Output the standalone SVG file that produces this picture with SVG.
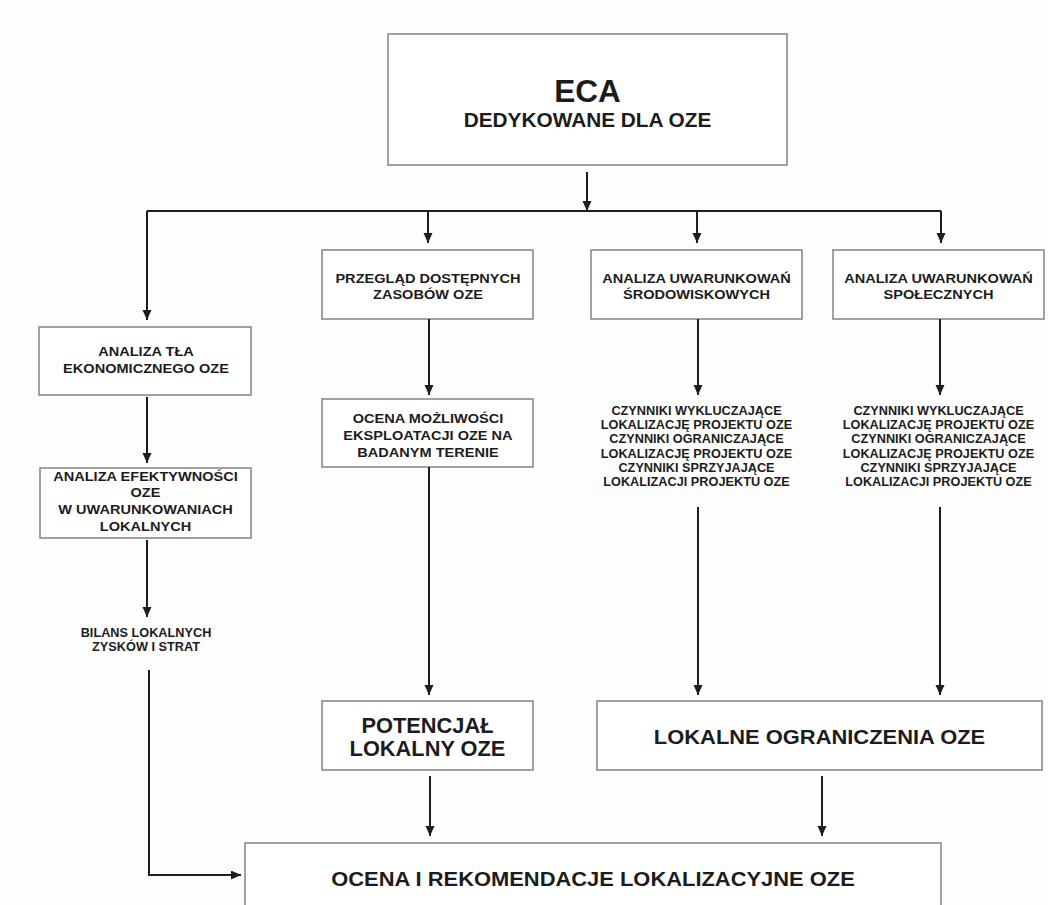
<svg xmlns="http://www.w3.org/2000/svg" width="1048" height="905" viewBox="0 0 1048 905">
<defs>
<marker id="arr" markerUnits="userSpaceOnUse" markerWidth="10" markerHeight="10" refX="10" refY="4.5" orient="auto">
<path d="M0,0 L10,4.5 L0,9 z" fill="#1e1e1e"/>
</marker>
<style>
.box{fill:#fff;stroke:#8a8a8a;stroke-width:1.6}
.t{font-family:"Liberation Sans",Arial,Helvetica,sans-serif;font-weight:bold;fill:#1c1c1c;text-anchor:middle}
.s13{font-size:13px}
.s12{font-size:12px}
.big{font-size:20px}
.con path{fill:none;stroke:#1e1e1e;stroke-width:2;marker-end:url(#arr)}
.con .plain{marker-end:none}
</style>
</defs>
<rect width="1048" height="905" fill="#fdfdfd"/>

<g id="n-eca">
<rect class="box" x="388" y="34" width="399" height="131"/>
<text class="t" x="587.5" y="102" style="font-size:31.5px">ECA</text>
<g transform="translate(587.5 0) scale(1.04 1)"><text class="t" x="0" y="127" style="font-size:20px">DEDYKOWANE DLA OZE</text></g>
</g>

<g id="n-tlo">
<rect class="box" x="39" y="327" width="212" height="68"/>
<g transform="translate(146 0) scale(1.12 1)"><text class="t s13" x="0" y="356">ANALIZA TŁA</text><text class="t s13" x="0" y="373">EKONOMICZNEGO OZE</text></g>
</g>

<g id="n-przeglad">
<rect class="box" x="322" y="250" width="211" height="69"/>
<g transform="translate(428 0) scale(1.12 1)"><text class="t s13" x="0" y="283">PRZEGLĄD DOSTĘPNYCH</text><text class="t s13" x="0" y="299">ZASOBÓW OZE</text></g>
</g>

<g id="n-srod">
<rect class="box" x="591" y="250" width="211" height="69"/>
<g transform="translate(696.5 0) scale(1.12 1)"><text class="t s13" x="0" y="283">ANALIZA UWARUNKOWAŃ</text><text class="t s13" x="0" y="299">ŚRODOWISKOWYCH</text></g>
</g>

<g id="n-spol">
<rect class="box" x="833" y="250" width="211" height="69"/>
<g transform="translate(938.5 0) scale(1.12 1)"><text class="t s13" x="0" y="283">ANALIZA UWARUNKOWAŃ</text><text class="t s13" x="0" y="299">SPOŁECZNYCH</text></g>
</g>

<g id="n-ocena-mozl">
<rect class="box" x="322" y="399" width="211" height="68"/>
<g transform="translate(428 0) scale(1.12 1)"><text class="t s13" x="0" y="423">OCENA MOŻLIWOŚCI</text><text class="t s13" x="0" y="440">EKSPLOATACJI OZE NA</text><text class="t s13" x="0" y="457">BADANYM TERENIE</text></g>
</g>

<g id="n-efekt">
<rect class="box" x="40" y="468" width="211" height="70"/>
<g transform="translate(145.5 0) scale(1.12 1)"><text class="t s13" x="0" y="481">ANALIZA EFEKTYWNOŚCI</text><text class="t s13" x="0" y="497">OZE</text><text class="t s13" x="0" y="514">W UWARUNKOWANIACH</text><text class="t s13" x="0" y="531">LOKALNYCH</text></g>
</g>

<g id="n-bilans">
<g transform="translate(146 0) scale(1.06 1)"><text class="t s12" x="0" y="637">BILANS LOKALNYCH</text><text class="t s12" x="0" y="651">ZYSKÓW I STRAT</text></g>
</g>

<g id="n-czyn-srod">
<g transform="translate(696.5 0) scale(1.06 1)">
<text class="t s12" x="0" y="415">CZYNNIKI WYKLUCZAJĄCE</text>
<text class="t s12" x="0" y="429">LOKALIZACJĘ PROJEKTU OZE</text>
<text class="t s12" x="0" y="443">CZYNNIKI OGRANICZAJĄCE</text>
<text class="t s12" x="0" y="458">LOKALIZACJĘ PROJEKTU OZE</text>
<text class="t s12" x="0" y="472">CZYNNIKI SPRZYJAJĄCE</text>
<text class="t s12" x="0" y="486">LOKALIZACJI PROJEKTU OZE</text>
</g>
</g>

<g id="n-czyn-spol">
<g transform="translate(938.5 0) scale(1.06 1)">
<text class="t s12" x="0" y="415">CZYNNIKI WYKLUCZAJĄCE</text>
<text class="t s12" x="0" y="429">LOKALIZACJĘ PROJEKTU OZE</text>
<text class="t s12" x="0" y="443">CZYNNIKI OGRANICZAJĄCE</text>
<text class="t s12" x="0" y="458">LOKALIZACJĘ PROJEKTU OZE</text>
<text class="t s12" x="0" y="472">CZYNNIKI SPRZYJAJĄCE</text>
<text class="t s12" x="0" y="486">LOKALIZACJI PROJEKTU OZE</text>
</g>
</g>

<g id="n-potencjal">
<rect class="box" x="322" y="701" width="211" height="69"/>
<text class="t" x="427.5" y="733" style="font-size:21.8px">POTENCJAŁ</text>
<text class="t" x="427.5" y="756" style="font-size:21.8px">LOKALNY OZE</text>
</g>

<g id="n-ograniczenia">
<rect class="box" x="597" y="701" width="445" height="69"/>
<g transform="translate(819.5 0) scale(1.095 1)"><text class="t big" x="0" y="744">LOKALNE OGRANICZENIA OZE</text></g>
</g>

<g id="n-rekomendacje">
<rect class="box" x="245" y="843" width="696" height="90"/>
<g transform="translate(593 0) scale(1.095 1)"><text class="t big" x="0" y="886">OCENA I REKOMENDACJE LOKALIZACYJNE OZE</text></g>
</g>

<g id="connectors" class="con">
<path d="M587,172 V211"/>
<path class="plain" d="M147,211 H941"/>
<path d="M147,211 V320"/>
<path d="M428,211 V243"/>
<path d="M697,211 V243"/>
<path d="M941,211 V243"/>
<path d="M147,397 V463"/>
<path d="M147,540 V617"/>
<path d="M149,670 V875 H241"/>
<path d="M429,319 V395"/>
<path d="M429,467 V695"/>
<path d="M698,319 V395"/>
<path d="M940,319 V395"/>
<path d="M698,507 V695"/>
<path d="M940,507 V695"/>
<path d="M430,776 V836"/>
<path d="M822,776 V836"/>
</g>
</svg>
